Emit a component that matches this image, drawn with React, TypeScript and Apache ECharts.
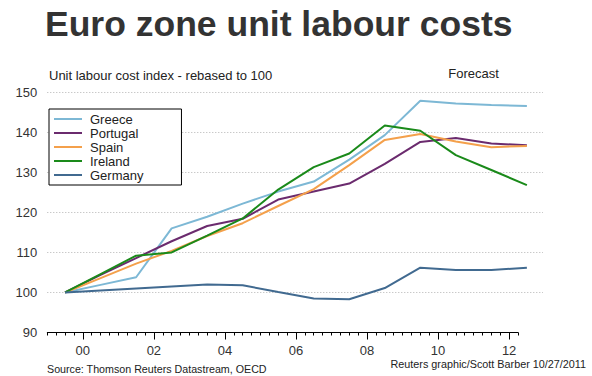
import React, { useEffect, useRef } from "react";
import * as echarts from "echarts";

// Annual data, plotted at mid-year
const years = [1999, 2000, 2001, 2002, 2003, 2004, 2005, 2006, 2007, 2008, 2009, 2010, 2011, 2012];
const greece = [100, 101.9, 103.8, 116.0, 118.9, 122.2, 125.2, 127.7, 133.2, 139.3, 147.9, 147.2, 146.8, 146.6];
const portugal = [100, 104.4, 108.6, 112.8, 116.6, 118.4, 123.2, 125.2, 127.2, 132.1, 137.6, 138.6, 137.2, 136.8];
const spain = [100, 103.6, 107.2, 110.4, 114.1, 117.3, 121.6, 125.8, 131.8, 138.1, 139.6, 137.7, 136.3, 136.6];
const ireland = [100, 104.6, 109.2, 110.0, 114.2, 118.5, 125.7, 131.3, 134.7, 141.7, 140.4, 134.3, 130.6, 126.8];
const germany = [100, 100.5, 101.0, 101.5, 102.0, 101.8, 100.1, 98.5, 98.3, 101.1, 106.2, 105.6, 105.6, 106.2];
const xLabelYears = [2000, 2002, 2004, 2006, 2008, 2010, 2012];

const seriesNames = ["Greece", "Portugal", "Spain", "Ireland", "Germany"];
const seriesValues = [greece, portugal, spain, ireland, germany];
const seriesColors = ["#7db8d5", "#6b2b6e", "#f4a04b", "#1a8a1a", "#416a90"];

const FONT = '"Liberation Sans", Arial, Helvetica, sans-serif';

export default function App() {
  const ref = useRef<HTMLDivElement>(null);
  useEffect(() => {
    document.body.style.margin = "0";
    const chart = echarts.init(ref.current!, null, { renderer: "svg" });

    const gLeft = 47.3;
    const gTop = 92.3;
    const gBottom = 376 - 332.5;
    const axisRight = 592 - 518;
    const plotRight = 592 - 543;
    const axisMin = 1999;
    const axisMax = 2012.25;
    const ppy = (592 - gLeft - axisRight) / (axisMax - axisMin);
    const plotMax = axisMin + (592 - gLeft - plotRight) / ppy;

    const option: any = {
      animation: false,
      backgroundColor: "#fff",
      textStyle: { fontFamily: FONT },
      grid: [
        { left: gLeft, right: plotRight, top: gTop, bottom: gBottom },
        { left: gLeft, right: axisRight, top: gTop, bottom: gBottom },
        { left: gLeft, right: axisRight, top: gTop, bottom: gBottom },
      ],
      xAxis: [
        { gridIndex: 0, type: "value", min: axisMin, max: plotMax, show: false },
        {
          gridIndex: 1,
          type: "value",
          min: axisMin,
          max: axisMax,
          interval: 0.25,
          axisLine: { show: true, lineStyle: { color: "#000", width: 1 } },
          axisTick: { show: true, length: 3, lineStyle: { color: "#000", width: 1 } },
          axisLabel: { show: false },
          splitLine: { show: false },
        },
        {
          gridIndex: 2,
          type: "value",
          min: axisMin,
          max: axisMax,
          axisLine: { show: false },
          axisTick: { show: true, length: 7, customValues: xLabelYears, lineStyle: { color: "#000", width: 1 } },
          axisLabel: {
            show: true,
            customValues: xLabelYears,
            formatter: (v: number) => String(Math.round(v)).slice(2),
            fontSize: 13,
            lineHeight: 13,
            color: "#333",
            margin: 11,
            fontFamily: FONT,
          },
          splitLine: { show: false },
        },
      ],
      yAxis: [
        {
          gridIndex: 0,
          type: "value",
          min: 90,
          max: 150,
          interval: 10,
          axisLine: { show: false },
          axisTick: { show: false },
          axisLabel: { fontSize: 13, color: "#333", margin: 10, fontFamily: FONT },
          splitLine: {
            show: true,
            showMinLine: false,
            lineStyle: { type: [1, 2], color: "#b3b3b3", width: 1 },
          },
        },
        { gridIndex: 1, type: "value", min: 90, max: 150, show: false },
        { gridIndex: 2, type: "value", min: 90, max: 150, show: false },
      ],
      legend: {
        data: seriesNames.map((n) => ({ name: n, icon: "path://M0,0H28V2H0Z" })),
        orient: "vertical",
        left: 49,
        top: 109,
        itemWidth: 28,
        itemHeight: 14,
        itemGap: 0,
        symbolKeepAspect: true,
        itemStyle: { borderWidth: 0 },
        padding: [3, 38, 3, 5],
        borderColor: "#000",
        borderWidth: 1,
        backgroundColor: "#fff",
        textStyle: { fontSize: 13, lineHeight: 14, color: "#222", fontFamily: FONT, padding: [0, 0, 0, 3] },
      },
      graphic: [
        {
          type: "text",
          x: 45,
          y: 23.5,
          style: {
            text: "Euro zone unit labour costs",
            font: `bold 35.5px ${FONT}`,
            fill: "#333",
            align: "left",
            verticalAlign: "middle",
          },
        },
        {
          type: "text",
          x: 49,
          y: 75,
          style: {
            text: "Unit labour cost index - rebased to 100",
            font: `13px ${FONT}`,
            fill: "#222",
            align: "left",
            verticalAlign: "middle",
          },
        },
        {
          type: "text",
          x: 473.5,
          y: 73.3,
          style: {
            text: "Forecast",
            font: `13px ${FONT}`,
            fill: "#222",
            align: "center",
            verticalAlign: "middle",
          },
        },
        {
          type: "text",
          x: 47,
          y: 368.5,
          style: {
            text: "Source: Thomson Reuters Datastream, OECD",
            font: `10.7px ${FONT}`,
            fill: "#222",
            align: "left",
            verticalAlign: "middle",
          },
        },
        {
          type: "text",
          x: 586,
          y: 363.7,
          style: {
            text: "Reuters graphic/Scott Barber 10/27/2011",
            font: `10.8px ${FONT}`,
            fill: "#222",
            align: "right",
            verticalAlign: "middle",
          },
        },
      ],
      series: seriesNames.map((name, si) => ({
        name,
        type: "line",
        xAxisIndex: 0,
        yAxisIndex: 0,
        symbol: "none",
        clip: false,
        color: seriesColors[si],
        lineStyle: { color: seriesColors[si], width: 2 },
        data: years.map((y, i) => [y + 0.5, seriesValues[si][i]]),
      })),
    };
    chart.setOption(option);
    return () => chart.dispose();
  }, []);
  return (
    <div
      ref={ref}
      style={{ position: "absolute", left: 0, top: 0, width: 592, height: 376, background: "#fff" }}
    />
  );
}
